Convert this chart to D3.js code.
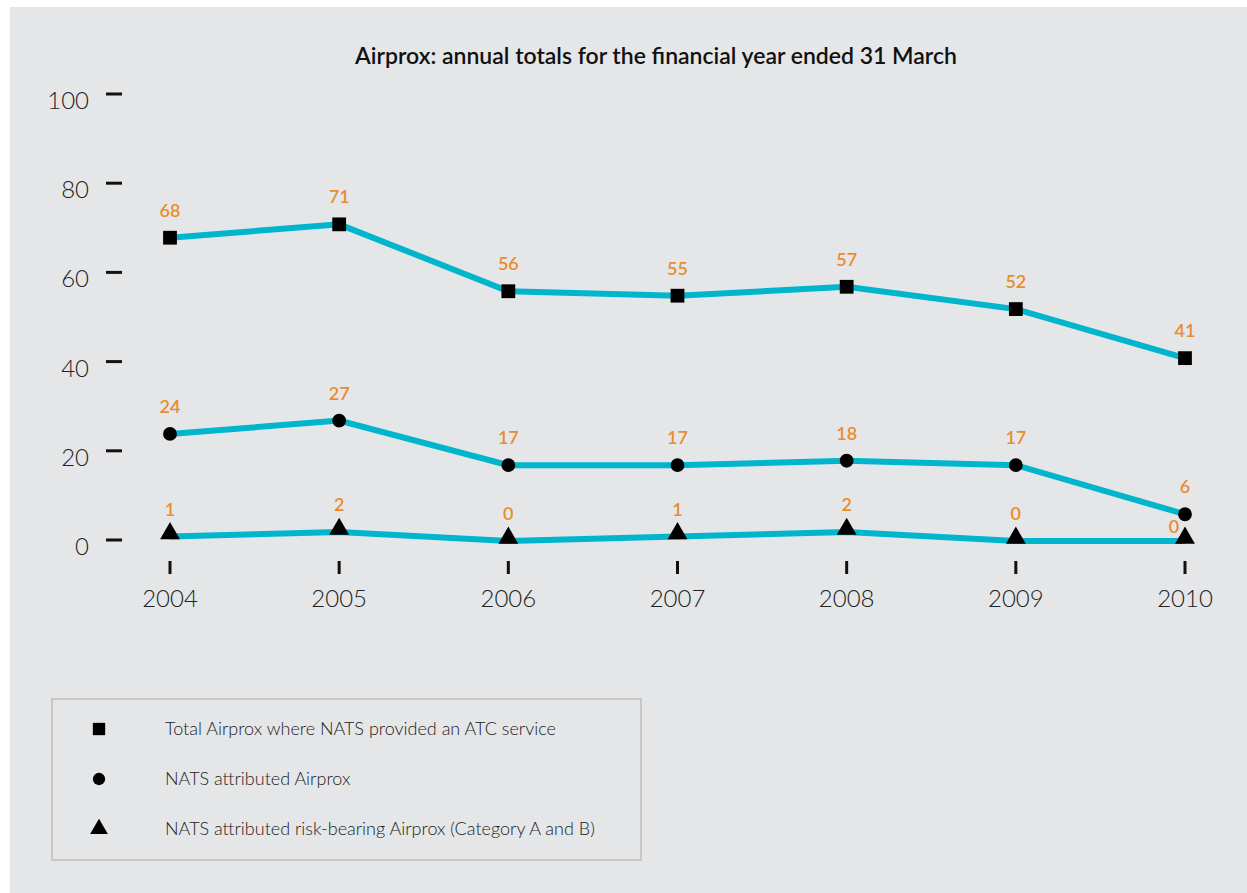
<!DOCTYPE html>
<html>
<head>
<meta charset="utf-8">
<script src="https://cdnjs.cloudflare.com/ajax/libs/d3/7.8.5/d3.min.js"></script>
<style>
  body { margin: 0; background: #fff; }
  svg text { font-family: Lato, "Open Sans", sans-serif; }
</style>
</head>
<body>
<svg id="chart" width="1247" height="893"></svg>
<script>
// data
var years = [2004, 2005, 2006, 2007, 2008, 2009, 2010]
var totalAirprox = [68, 71, 56, 55, 57, 52, 41]
var natsAttributed = [24, 27, 17, 17, 18, 17, 6]
var riskBearing = [1, 2, 0, 1, 2, 0, 0]
var yTicks = [0, 20, 40, 60, 80, 100]
var seriesNames = [
  "Total Airprox where NATS provided an ATC service",
  "NATS attributed Airprox",
  "NATS attributed risk-bearing Airprox (Category A and B)"
]
var title = "Airprox: annual totals for the financial year ended 31 March"

var lineColor = "#00b5cc"
var labelColor = "#ea8c2c"

var svg = d3.select('#chart')

svg.append('rect')
  .attr('x', 10).attr('y', 7)
  .attr('width', 1237).attr('height', 886)
  .attr('fill', '#e5e6e8')

svg.append('text')
  .attr('x', 656).attr('y', 64)
  .attr('text-anchor', 'middle')
  .attr('font-size', 23)
  .attr('font-weight', 600)
  .attr('fill', '#111')
  .text(title)

var x = d3.scalePoint().domain(years).range([170, 1185])
var y = d3.scaleLinear().domain([0, 100]).range([541, 95])

// y axis: little dashes + labels
var yAxis = svg.append('g')
yAxis.selectAll('line').data(yTicks).join('line')
  .attr('x1', 106).attr('x2', 122)
  .attr('y1', function(d) { return y(d) - 1 })
  .attr('y2', function(d) { return y(d) - 1 })
  .attr('stroke', '#111').attr('stroke-width', 3)
yAxis.selectAll('text').data(yTicks).join('text')
  .attr('x', 89)
  .attr('y', function(d) { return y(d) + 14 })
  .attr('text-anchor', 'end')
  .attr('font-size', 24)
  .attr('font-weight', 300)
  .attr('fill', '#222')
  .text(function(d) { return d })

// x axis
var xAxis = svg.append('g')
xAxis.selectAll('line').data(years).join('line')
  .attr('x1', function(d) { return x(d) }).attr('x2', function(d) { return x(d) })
  .attr('y1', 561).attr('y2', 574)
  .attr('stroke', '#111').attr('stroke-width', 3)
xAxis.selectAll('text').data(years).join('text')
  .attr('x', function(d) { return x(d) })
  .attr('y', 607)
  .attr('text-anchor', 'middle')
  .attr('font-size', 24)
  .attr('font-weight', 300)
  .attr('fill', '#222')
  .text(function(d) { return d })

var series = [
  { values: totalAirprox, symbol: d3.symbolSquare, size: 190 },
  { values: natsAttributed, symbol: d3.symbolCircle, size: 150 },
  { values: riskBearing, symbol: d3.symbolTriangle, size: 170 }
]

var line = d3.line()
  .x(function(d, i) { return x(years[i]) })
  .y(function(d) { return y(d) })

series.forEach(function(s, si) {
  var g = svg.append('g')
  g.append('path')
    .attr('d', line(s.values))
    .attr('fill', 'none')
    .attr('stroke', lineColor)
    .attr('stroke-width', 6)
  g.selectAll('path.pt').data(s.values).join('path')
    .attr('class', 'pt')
    .attr('transform', function(d, i) {
      var off = si == 2 ? -3 : 0
      return 'translate(' + x(years[i]) + ',' + (y(d) + off) + ')'
    })
    .attr('d', d3.symbol().type(s.symbol).size(s.size))
    .attr('fill', '#000')
  g.selectAll('text').data(s.values).join('text')
    .attr('x', function(d, i) {
      // last triangle label is nudged left to clear the circle above
      return x(years[i]) + (si == 2 && i == years.length - 1 ? -11 : 0)
    })
    .attr('y', function(d, i) {
      return y(d) - (si == 2 && i == years.length - 1 ? 8 : 21)
    })
    .attr('text-anchor', 'middle')
    .attr('font-size', 18)
    .attr('font-weight', 600)
    .attr('fill', labelColor)
    .text(function(d) { return d })
})

// legend
var legend = svg.append('g')
legend.append('rect')
  .attr('x', 52).attr('y', 699)
  .attr('width', 589).attr('height', 161)
  .attr('fill', 'none')
  .attr('stroke', '#bdbdbd').attr('stroke-width', 1.5)
var rows = legend.selectAll('g').data(series).join('g')
  .attr('transform', function(d, i) { return 'translate(0,' + (729 + i * 50) + ')' })
rows.append('path')
  .attr('transform', 'translate(99,0)')
  .attr('d', function(d) { return d3.symbol().type(d.symbol).size(d.size * 0.8)() })
  .attr('fill', '#000')
rows.append('text')
  .attr('x', 165).attr('y', 6)
  .attr('font-size', 18)
  .attr('font-weight', 300)
  .attr('fill', '#222')
  .text(function(d, i) { return seriesNames[i] })
</script>
</body>
</html>
